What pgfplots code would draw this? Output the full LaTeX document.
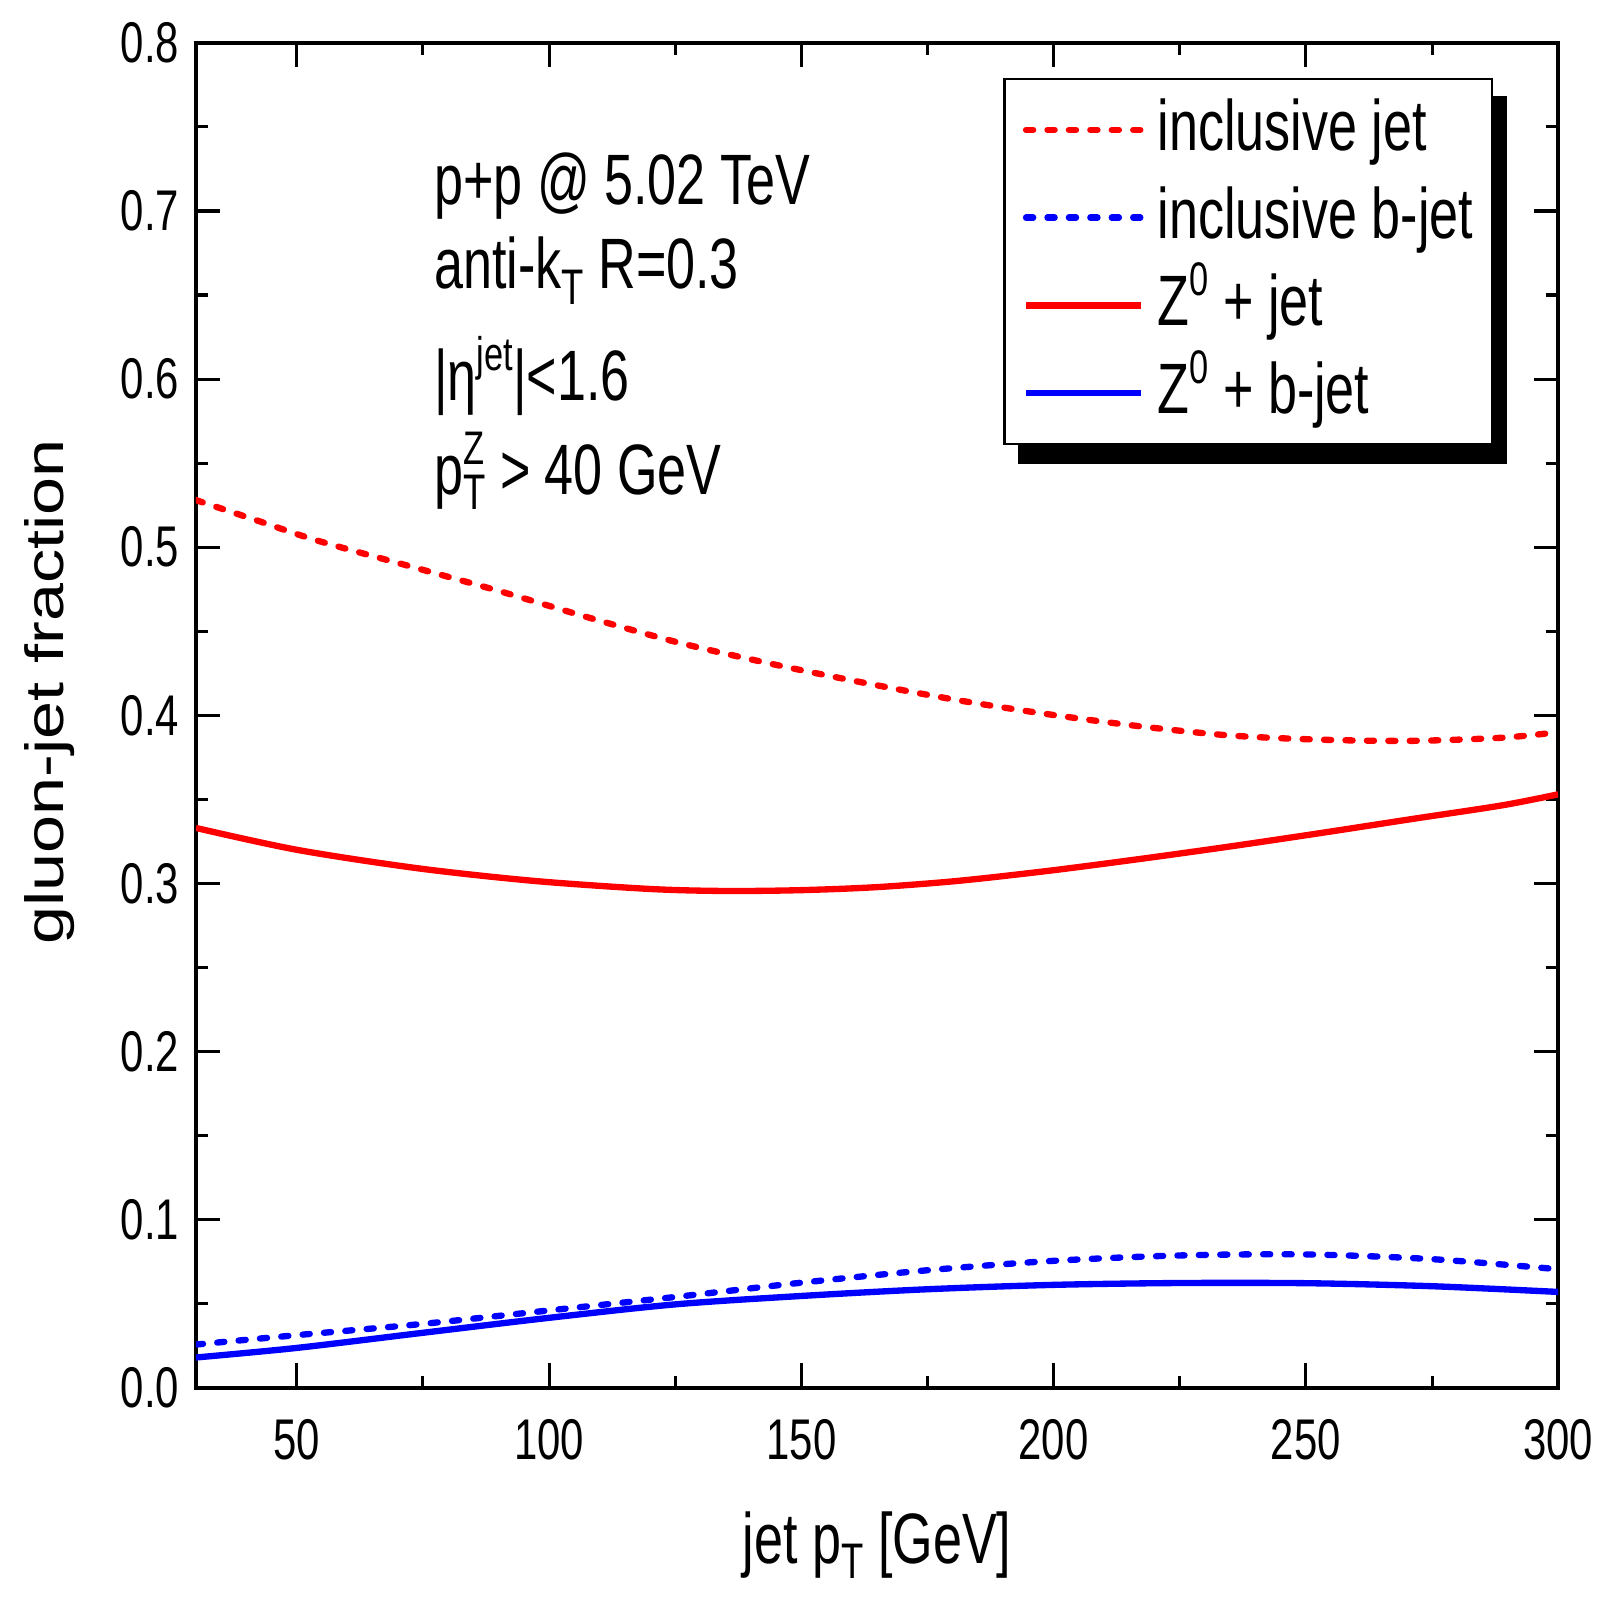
\documentclass[border=0pt]{standalone}
\usepackage{fontspec}
\setmainfont{Liberation Sans}[FakeStretch=0.73]
\newfontfamily\ylabfont{Liberation Sans}[FakeStretch=1.27]
\usepackage{graphicx}
\usepackage{pgfplots}
\pgfplotsset{compat=1.18}
\usetikzlibrary{backgrounds}
\newcommand\subs[1]{\raisebox{-0.4ex}{\scalebox{0.7}{#1}}}
\newcommand\sups[1]{\raisebox{0.8ex}{\scalebox{0.66}{#1}}}
\newcommand\bigfont{\fontsize{19.9pt}{24pt}\selectfont}

\pgfplotstableread{
x y
30 0.528
42 0.516
54 0.504
72 0.489
90 0.474
108 0.458
126 0.443
145 0.430
163 0.419
181 0.409
199 0.4006
217 0.3935
235 0.388
253 0.3855
271 0.3848
289 0.3867
300 0.390
}\incljet

\pgfplotstableread{
x y
30 0.0257
50 0.0313
75 0.038
100 0.046
125 0.054
150 0.0625
175 0.0699
200 0.0755
225 0.0787
250 0.0793
275 0.0765
300 0.0705
}\inclbjet

\pgfplotstableread{
x y
30 0.333
50 0.320
74 0.309
97 0.3015
120 0.2967
135 0.2955
150 0.2960
165 0.2978
181 0.3015
199 0.3075
217 0.3145
235 0.322
253 0.330
271 0.3383
289 0.3465
300 0.353
}\zjet

\pgfplotstableread{
x y
30 0.018
50 0.0237
75 0.0327
100 0.0416
125 0.0496
150 0.0546
175 0.0586
200 0.0612
225 0.0623
250 0.0622
275 0.0604
300 0.057
}\zbjet

\begin{document}
\begin{tikzpicture}
\useasboundingbox (0,0.32cm) rectangle (15.68cm,16cm);
\begin{axis}[
  scale only axis, width=13.35cm, height=13.18cm,
  at={(1.92cm,2.40cm)}, anchor=south west,
  xmin=30, xmax=300, ymin=0, ymax=0.8,
  xtick={50,100,150,200,250,300},
  minor xtick={75,125,175,225,275},
  ytick={0,0.1,0.2,0.3,0.4,0.5,0.6,0.7,0.8},
  minor ytick={0.05,0.15,0.25,0.35,0.45,0.55,0.65,0.75},
  axis line style={line width=0.04cm},
  major tick length=0.24cm, minor tick length=0.12cm,
  every tick/.style={black, line width=0.03cm},
  tick align=inside, tick pos=both,
  ticklabel style={font=\fontsize{16pt}{18pt}\selectfont},
  /pgf/number format/assume math mode=true,
  y tick label style={/pgf/number format/fixed, /pgf/number format/fixed zerofill, /pgf/number format/precision=1},
  xticklabel style={yshift=-0.19cm},
  yticklabel style={xshift=-0.04cm},
  xlabel={jet p\subs{T} [GeV]},
  xlabel style={font=\bigfont, at={(axis description cs:0.5,-0.1305)}, anchor=base},
  ylabel={gluon-jet fraction},
  ylabel style={font=\ylabfont\fontsize{15pt}{18pt}\selectfont, at={(axis description cs:-0.0974,0.5175)}, anchor=base},
  legend style={name=leg, at={(0.952,0.974)}, anchor=north east, draw=black, line width=0.02cm,
    fill=white, font=\bigfont,
    inner xsep=0.18cm, inner ysep=0.09cm,
    nodes={inner xsep=0cm, inner ysep=0.05cm, text height=0.56cm, text depth=0.16cm},
    row sep=0.04cm, column sep=0.13cm},
  legend cell align=left,
  legend image code/.code={\draw[#1] (0.10cm,0cm) -- (1.23cm,0cm);},
]
\addplot[red, line width=0.062cm, line cap=round, dash pattern=on 0.07cm off 0.14cm, smooth] table[x=x,y=y] {\incljet};
\addlegendentry{inclusive jet}
\addplot[blue, line width=0.062cm, line cap=round, dash pattern=on 0.07cm off 0.14cm, smooth] table[x=x,y=y] {\inclbjet};
\addlegendentry{inclusive b-jet}
\addplot[red, line width=0.062cm, smooth] table[x=x,y=y] {\zjet};
\addlegendentry{Z\sups{0} + jet}
\addplot[blue, line width=0.062cm, smooth] table[x=x,y=y] {\zbjet};
\addlegendentry{Z\sups{0} + b-jet}

\node[anchor=base west, font=\bigfont, inner sep=0pt] at (rel axis cs:0.1745,0.880) {p+p @ 5.02 TeV};
\node[anchor=base west, font=\bigfont, inner sep=0pt] at (rel axis cs:0.1745,0.817) {anti-k\subs{T} R=0.3};
\node[anchor=base west, font=\bigfont, inner sep=0pt] at (rel axis cs:0.1745,0.734) {|η\sups{jet}|<1.6};
\node[anchor=base west, font=\bigfont, inner sep=0pt] at (rel axis cs:0.1745,0.664) {p\rlap{\sups{Z}}\subs{T} > 40 GeV};
\end{axis}
\begin{pgfonlayer}{background}
\fill[black] ([xshift=0.14cm,yshift=-0.18cm]leg.south west) rectangle ([xshift=0.14cm,yshift=-0.18cm]leg.north east);
\end{pgfonlayer}
\end{tikzpicture}
\end{document}
